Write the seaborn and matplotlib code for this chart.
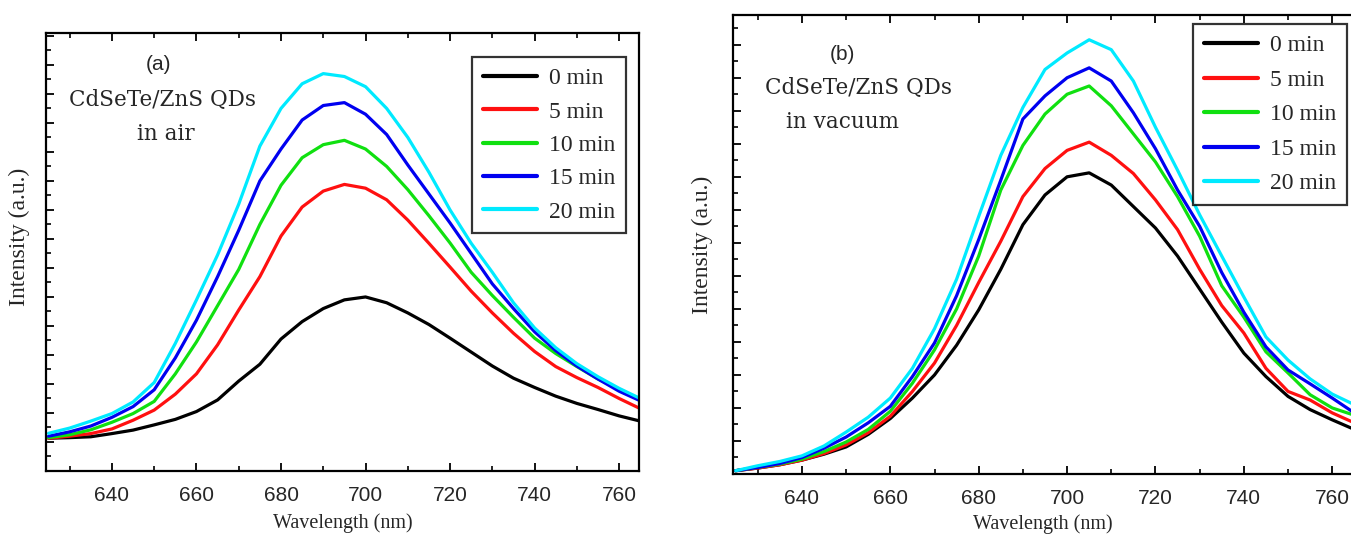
import matplotlib
matplotlib.use("Agg")
import matplotlib.pyplot as plt
from matplotlib.ticker import MultipleLocator
import pandas as pd
import seaborn as sns

# ---------------- data ----------------
wavelength = [625, 630, 635, 640, 645, 650, 655, 660, 665, 670, 675, 680, 685, 690, 695,
              700, 705, 710, 715, 720, 725, 730, 735, 740, 745, 750, 755, 760, 765]
times = ["0 min", "5 min", "10 min", "15 min", "20 min"]

# panel (a): in air
air_0 = [1.13, 1.15, 1.18, 1.29, 1.41, 1.59, 1.78, 2.05, 2.45, 3.1, 3.68, 4.55, 5.15, 5.6, 5.9,
         6.0, 5.8, 5.45, 5.05, 4.58, 4.1, 3.62, 3.2, 2.88, 2.58, 2.33, 2.12, 1.9, 1.72]
air_5 = [1.13, 1.2, 1.29, 1.45, 1.75, 2.1, 2.65, 3.35, 4.35, 5.55, 6.7, 8.1, 9.1, 9.65, 9.88,
         9.75, 9.35, 8.65, 7.85, 7.03, 6.2, 5.45, 4.75, 4.12, 3.6, 3.22, 2.88, 2.5, 2.15]
air_10 = [1.15, 1.25, 1.42, 1.68, 1.98, 2.4, 3.35, 4.45, 5.7, 6.95, 8.5, 9.85, 10.8, 11.25, 11.4,
          11.1, 10.5, 9.7, 8.8, 7.86, 6.85, 6.05, 5.3, 4.58, 4.05, 3.6, 3.17, 2.82, 2.45]
air_15 = [1.2, 1.35, 1.55, 1.85, 2.22, 2.8, 3.9, 5.2, 6.7, 8.3, 10.0, 11.1, 12.1, 12.6, 12.7,
          12.3, 11.6, 10.55, 9.55, 8.55, 7.5, 6.45, 5.6, 4.8, 4.15, 3.62, 3.17, 2.75, 2.42]
air_20 = [1.3, 1.48, 1.72, 1.98, 2.38, 3.05, 4.4, 5.9, 7.45, 9.2, 11.2, 12.5, 13.35, 13.7, 13.6,
          13.25, 12.5, 11.5, 10.3, 9.0, 7.85, 6.85, 5.8, 4.93, 4.25, 3.7, 3.25, 2.85, 2.5]

# panel (b): in vacuum
vac_0 = [0.1, 0.18, 0.28, 0.42, 0.6, 0.82, 1.2, 1.68, 2.3, 3.0, 3.9, 4.97, 6.2, 7.55, 8.45,
         9.0, 9.12, 8.75, 8.1, 7.45, 6.6, 5.6, 4.6, 3.66, 2.95, 2.35, 1.95, 1.64, 1.35]
vac_5 = [0.1, 0.18, 0.28, 0.42, 0.62, 0.88, 1.25, 1.75, 2.5, 3.36, 4.5, 5.8, 7.05, 8.4, 9.25,
         9.8, 10.05, 9.65, 9.1, 8.3, 7.4, 6.2, 5.1, 4.27, 3.2, 2.5, 2.24, 1.85, 1.55]
vac_10 = [0.1, 0.2, 0.3, 0.45, 0.68, 0.97, 1.35, 1.9, 2.75, 3.76, 5.0, 6.6, 8.6, 9.95, 10.9,
          11.5, 11.75, 11.15, 10.3, 9.45, 8.4, 7.2, 5.7, 4.75, 3.7, 3.06, 2.4, 2.0, 1.78]
vac_15 = [0.1, 0.2, 0.32, 0.5, 0.78, 1.12, 1.55, 2.05, 2.95, 3.97, 5.4, 7.1, 8.9, 10.75, 11.45,
          12.0, 12.3, 11.9, 10.94, 9.85, 8.6, 7.5, 6.1, 4.9, 3.85, 3.15, 2.73, 2.3, 1.85]
vac_20 = [0.1, 0.25, 0.38, 0.55, 0.85, 1.27, 1.72, 2.3, 3.2, 4.4, 5.9, 7.8, 9.65, 11.1, 12.25,
          12.75, 13.15, 12.85, 11.9, 10.5, 9.2, 7.85, 6.6, 5.36, 4.15, 3.45, 2.88, 2.42, 2.1]

colors = ["#000000", "#ff1010", "#10e010", "#0000f0", "#00eaff"]
x_ticks = [640, 660, 680, 700, 720, 740, 760]

# ---------------- styling ----------------
sns.set_theme(style="white")
plt.rcParams["font.family"] = ["Liberation Sans", "DejaVu Sans"]

W, H = 1351, 536
fig = plt.figure(figsize=(W / 100, H / 100), dpi=100)
ax1 = fig.add_axes([46 / W, 1 - 471 / H, (639 - 46) / W, (471 - 33) / H])
ax2 = fig.add_axes([733 / W, 1 - 474 / H, (1353 - 733) / W, (474 - 15) / H])

palette = dict(zip(times, colors))


def long_frame(series):
    rows = []
    for t, vals in zip(times, series):
        for w, v in zip(wavelength, vals):
            rows.append({"Wavelength": w, "Intensity": v, "Time": t})
    return pd.DataFrame(rows)


def draw(ax, series, ylim, tag, sample_lines, tag_pos, s_pos, env_pos, leg_anchor,
         ylab_xy, xlab_pad, lab_space):
    df = long_frame(series)
    sns.lineplot(data=df, x="Wavelength", y="Intensity", hue="Time", hue_order=times,
                 palette=palette, linewidth=2.3, ax=ax, legend=True)
    ax.set_xlim(624.4, 764.7)
    ax.set_ylim(*ylim)
    ax.set_xticks(x_ticks)
    ax.set_xticklabels([str(v) for v in x_ticks])
    ax.xaxis.set_minor_locator(MultipleLocator(10))
    ax.yaxis.set_major_locator(MultipleLocator(1))
    ax.yaxis.set_minor_locator(MultipleLocator(0.5))
    ax.tick_params(which="both", direction="in", top=True, right=False, left=True,
                   bottom=True, labelleft=False, color="black")
    ax.tick_params(which="major", length=6, width=1.3, labelsize=15, pad=11)
    ax.tick_params(which="minor", length=3.5, width=1.2)
    for sp in ax.spines.values():
        sp.set_color("black")
        sp.set_linewidth(1.6)
    ax.set_xlabel("Wavelength (nm)", family=["Liberation Serif", "DejaVu Serif"],
                  fontsize=14.5, labelpad=xlab_pad)
    ax.set_ylabel("Intensity (a.u.)", family=["Liberation Serif", "DejaVu Serif"],
                  fontsize=17)
    ax.yaxis.set_label_coords(*ylab_xy)
    ax.text(tag_pos[0], tag_pos[1], tag, transform=ax.transAxes, ha="center", va="center",
            fontsize=15, family=["Liberation Sans", "DejaVu Sans"])
    ax.text(s_pos[0], s_pos[1], sample_lines[0], transform=ax.transAxes, ha="center",
            va="center", fontsize=15.5, family=["DejaVu Serif"])
    ax.text(env_pos[0], env_pos[1], sample_lines[1], transform=ax.transAxes, ha="center",
            va="center", fontsize=15.5, family=["DejaVu Serif"])
    leg = ax.legend(loc="upper right", bbox_to_anchor=leg_anchor, borderaxespad=0,
                    frameon=True, fancybox=False, handlelength=2.3, handletextpad=0.5,
                    labelspacing=lab_space, borderpad=0.45,
                    prop={"family": ["Liberation Serif", "DejaVu Serif"], "size": 17})
    leg.get_frame().set_edgecolor("black")
    leg.get_frame().set_linewidth(1.6)
    for ln in leg.get_lines():
        ln.set_linewidth(3)


draw(ax1, [air_0, air_5, air_10, air_15, air_20], (0, 15.1), "(a)",
     ["CdSeTe/ZnS QDs", "in air"], (0.189, 0.929), (0.197, 0.847), (0.202, 0.769),
     (0.978, 0.945), (-0.027, 0.535), 6, 0.5)
draw(ax2, [vac_0, vac_5, vac_10, vac_15, vac_20], (0, 13.9), "(b)",
     ["CdSeTe/ZnS QDs", "in vacuum"], (0.177, 0.913), (0.202, 0.841), (0.177, 0.767),
     (0.990, 0.980), (-0.032, 0.50), 4, 0.55)

fig.savefig("out.png", dpi=100, facecolor="white")
